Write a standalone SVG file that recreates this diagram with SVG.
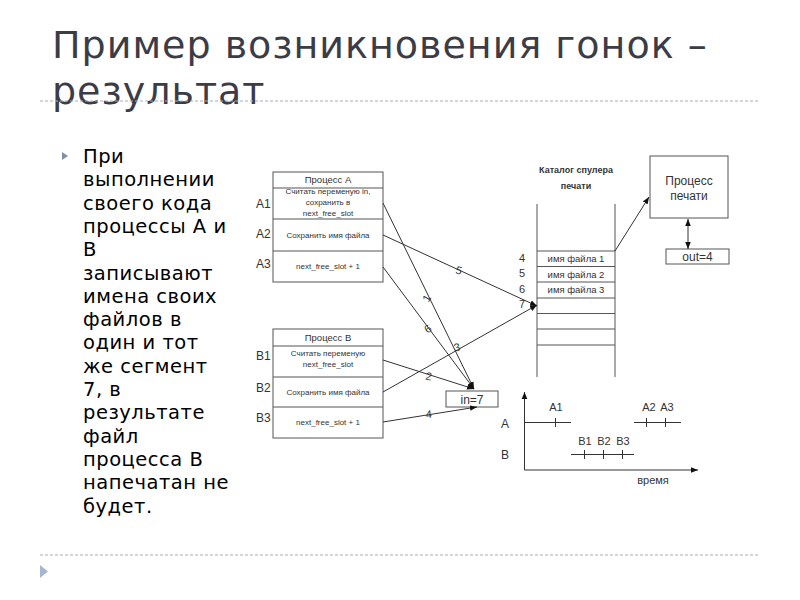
<svg xmlns="http://www.w3.org/2000/svg" width="800" height="600" viewBox="0 0 800 600">
<defs>
<style>
.title{font-family:"DejaVu Sans",sans-serif;font-size:38px;letter-spacing:1px;fill:#3c3c46}
.body{font-family:"DejaVu Sans",sans-serif;font-size:19.5px;letter-spacing:0.5px;fill:#000}
.box{fill:#fff;stroke:#555;stroke-width:1}
.sep{stroke:#555;stroke-width:1}
.t8{font-family:"Liberation Sans",Arial,sans-serif;font-size:8px;fill:#333;text-anchor:middle}
.t9{font-family:"Liberation Sans",Arial,sans-serif;font-size:9.5px;fill:#333;text-anchor:middle}
.t11{font-family:"Liberation Sans",Arial,sans-serif;font-size:11px;fill:#333}
.t12{font-family:"Liberation Sans",Arial,sans-serif;font-size:12px;fill:#333;text-anchor:middle}
.lbl{font-family:"Liberation Sans",Arial,sans-serif;font-size:12px;fill:#333}
.num{font-family:"Liberation Sans",Arial,sans-serif;font-size:11px;fill:#333;text-anchor:middle}
.b9{font-family:"Liberation Sans",Arial,sans-serif;font-size:9px;font-weight:bold;fill:#333;text-anchor:middle}
.conn{stroke:#333;stroke-width:1;fill:none}
.dash{stroke:#a3adbb;stroke-width:1;stroke-dasharray:3 2}
</style>
<marker id="arr" viewBox="0 0 10 10" refX="10" refY="5" markerWidth="7" markerHeight="7" orient="auto-start-reverse" markerUnits="userSpaceOnUse">
<path d="M0,1 L10,5 L0,9 z" fill="#111"/>
</marker>
</defs>
<rect width="800" height="600" fill="#fff"/>

<g id="title">
<text class="title" x="52" y="58">Пример возникновения гонок –</text>
<text class="title" x="52" y="104">результат</text>
</g>
<line class="dash" x1="40" y1="101" x2="760" y2="101"/>
<line class="dash" x1="40" y1="555" x2="760" y2="555"/>
<polygon points="40,565 48,571.5 40,578" fill="#a9b6d0"/>

<g id="bullet">
<polygon points="62,152 68,156 62,160" fill="#8090a8"/>
<text class="body" x="83" y="163">
<tspan x="83" dy="0">При</tspan>
<tspan x="83" dy="23.3">выполнении</tspan>
<tspan x="83" dy="23.3">своего кода</tspan>
<tspan x="83" dy="23.3">процессы А и</tspan>
<tspan x="83" dy="23.3">В</tspan>
<tspan x="83" dy="23.3">записывают</tspan>
<tspan x="83" dy="23.3">имена своих</tspan>
<tspan x="83" dy="23.3">файлов в</tspan>
<tspan x="83" dy="23.3">один и тот</tspan>
<tspan x="83" dy="23.3">же сегмент</tspan>
<tspan x="83" dy="23.3">7, в</tspan>
<tspan x="83" dy="23.3">результате</tspan>
<tspan x="83" dy="23.3">файл</tspan>
<tspan x="83" dy="23.3">процесса В</tspan>
<tspan x="83" dy="23.3">напечатан не</tspan>
<tspan x="83" dy="23.3">будет.</tspan>
</text>
</g>

<g id="processA">
<rect class="box" x="273" y="172" width="110" height="110"/>
<line class="sep" x1="273" y1="188" x2="383" y2="188"/>
<line class="sep" x1="273" y1="219" x2="383" y2="219"/>
<line class="sep" x1="273" y1="251" x2="383" y2="251"/>
<text class="t9" x="328" y="183">Процесс А</text>
<text class="t8" x="328" y="194">Считать переменую in,</text>
<text class="t8" x="328" y="205">сохранить в</text>
<text class="t8" x="328" y="216">next_free_slot</text>
<text class="t8" x="328" y="238">Сохранить имя файла</text>
<text class="t8" x="328" y="269">next_free_slot + 1</text>
<text class="lbl" x="256" y="208">A1</text>
<text class="lbl" x="256" y="238">A2</text>
<text class="lbl" x="256" y="268">A3</text>
</g>

<g id="processB">
<rect class="box" x="273" y="329" width="110" height="109"/>
<line class="sep" x1="273" y1="346" x2="383" y2="346"/>
<line class="sep" x1="273" y1="377" x2="383" y2="377"/>
<line class="sep" x1="273" y1="407" x2="383" y2="407"/>
<text class="t9" x="328" y="341">Процесс В</text>
<text class="t8" x="328" y="356">Считать переменую</text>
<text class="t8" x="328" y="367">next_free_slot</text>
<text class="t8" x="328" y="395">Сохранить имя файла</text>
<text class="t8" x="328" y="425">next_free_slot + 1</text>
<text class="lbl" x="256" y="360">B1</text>
<text class="lbl" x="256" y="392">B2</text>
<text class="lbl" x="256" y="422">B3</text>
</g>

<g id="catalog">
<text class="b9" x="576" y="173">Каталог спулера</text>
<text class="b9" x="576" y="189">печати</text>
<line class="sep" x1="537" y1="204" x2="537" y2="377"/>
<line class="sep" x1="615" y1="204" x2="615" y2="377"/>
<line class="sep" x1="537" y1="251" x2="615" y2="251"/>
<line class="sep" x1="537" y1="266.5" x2="615" y2="266.5"/>
<line class="sep" x1="537" y1="282" x2="615" y2="282"/>
<line class="sep" x1="537" y1="298" x2="615" y2="298"/>
<line class="sep" x1="537" y1="313.5" x2="615" y2="313.5"/>
<line class="sep" x1="537" y1="329" x2="615" y2="329"/>
<line class="sep" x1="537" y1="345" x2="615" y2="345"/>
<text class="t9" x="576" y="262">имя файла 1</text>
<text class="t9" x="576" y="277.5">имя файла 2</text>
<text class="t9" x="576" y="293">имя файла 3</text>
<text class="num" x="522" y="262">4</text>
<text class="num" x="522" y="277">5</text>
<text class="num" x="522" y="293">6</text>
<text class="num" x="522" y="308">7</text>
</g>

<g id="printProcess">
<rect class="box" x="650" y="156" width="78" height="62"/>
<text class="t12" x="689" y="185">Процесс</text>
<text class="t12" x="689" y="200">печати</text>
</g>

<g id="out">
<rect class="box" x="666" y="249" width="63" height="15"/>
<text class="t12" x="697.5" y="261">out=4</text>
</g>

<g id="inbox">
<rect class="box" x="446" y="391" width="52" height="16"/>
<text class="t12" x="472" y="403.5">in=7</text>
</g>

<g id="connectors">
<line class="conn" x1="383" y1="203" x2="474" y2="389" marker-end="url(#arr)"/>
<line class="conn" x1="383" y1="267" x2="474" y2="389" marker-end="url(#arr)"/>
<line class="conn" x1="383" y1="360" x2="474" y2="389" marker-end="url(#arr)"/>
<line class="conn" x1="383" y1="235" x2="537" y2="306" marker-end="url(#arr)"/>
<line class="conn" x1="383" y1="392" x2="537" y2="305" marker-end="url(#arr)"/>
<line class="conn" x1="383" y1="422" x2="477" y2="407" marker-end="url(#arr)"/>
<line class="conn" x1="615" y1="251" x2="649" y2="197" marker-end="url(#arr)"/>
<line class="conn" x1="688" y1="219" x2="688" y2="249" marker-start="url(#arr)" marker-end="url(#arr)"/>
<text class="num" transform="translate(430,300) rotate(-60)">1</text>
<text class="num" transform="translate(458,274) rotate(15)">5</text>
<text class="num" transform="translate(430,332) rotate(-35)">6</text>
<text class="num" transform="translate(458,351) rotate(-15)">3</text>
<text class="num" transform="translate(428,380) rotate(10)">2</text>
<text class="num" transform="translate(429,418) rotate(-5)">4</text>
</g>

<g id="timeline">
<line class="conn" x1="524.5" y1="470" x2="524.5" y2="392" marker-end="url(#arr)"/>
<line class="conn" x1="524.5" y1="470" x2="698" y2="470" marker-end="url(#arr)"/>
<text class="t12" x="505" y="428">A</text>
<text class="t12" x="505" y="459">B</text>
<line class="conn" x1="524.5" y1="422.5" x2="571" y2="422.5"/>
<line class="conn" x1="634" y1="422.5" x2="681" y2="422.5"/>
<line class="conn" x1="571" y1="454.5" x2="634" y2="454.5"/>
<line class="conn" x1="555.5" y1="418" x2="555.5" y2="427"/>
<line class="conn" x1="646.5" y1="418" x2="646.5" y2="427"/>
<line class="conn" x1="665.5" y1="418" x2="665.5" y2="427"/>
<line class="conn" x1="584.5" y1="450" x2="584.5" y2="459"/>
<line class="conn" x1="603.5" y1="450" x2="603.5" y2="459"/>
<line class="conn" x1="622.5" y1="450" x2="622.5" y2="459"/>
<text class="t11" x="556" y="411" text-anchor="middle">A1</text>
<text class="t11" x="649" y="411" text-anchor="middle">A2</text>
<text class="t11" x="667" y="411" text-anchor="middle">A3</text>
<text class="t11" x="585" y="445" text-anchor="middle">B1</text>
<text class="t11" x="604" y="445" text-anchor="middle">B2</text>
<text class="t11" x="623" y="445" text-anchor="middle">B3</text>
<text class="t11" x="653" y="484" text-anchor="middle">время</text>
</g>
</svg>
